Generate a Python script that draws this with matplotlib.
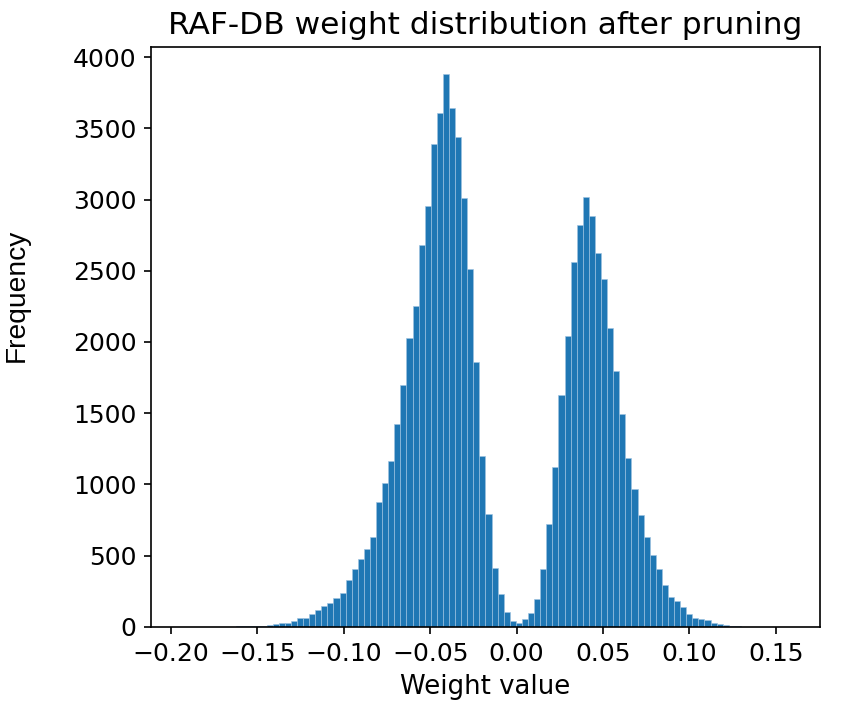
import numpy as np
import matplotlib
matplotlib.use("Agg")
import matplotlib.pyplot as plt

# bin range and counts (100 bins)
w_min, w_max = -0.194, 0.158
counts = [
    1, 0, 0, 1, 1, 1, 2, 2, 3, 4,
    5, 6, 7, 9, 12, 21, 26, 31, 40, 62,
    62, 90, 119, 150, 167, 202, 235, 327, 404, 479,
    549, 632, 880, 1011, 1162, 1425, 1700, 2028, 2251, 2679,
    2953, 3386, 3604, 3878, 3639, 3437, 3010, 2512, 1861, 1198,
    791, 414, 232, 107, 42, 30, 53, 95, 195, 407,
    726, 1126, 1627, 2043, 2558, 2818, 3018, 2884, 2628, 2442,
    2099, 1796, 1493, 1185, 971, 785, 632, 505, 405, 298,
    212, 185, 139, 92, 61, 54, 47, 26, 19, 12,
    7, 4, 3, 2, 1, 1, 0, 0, 1, 1,
]

edges = np.linspace(w_min, w_max, len(counts) + 1)
centers = (edges[:-1] + edges[1:]) / 2

fig = plt.figure(figsize=(845 / 150, 715 / 150), dpi=150)
ax = fig.add_axes([0.1787, 0.1231, 0.7917, 0.8115])

# 直方图
ax.hist(centers, bins=edges, weights=counts, color='#1f77b4',
        edgecolor='#9ec3e0', linewidth=0.3)

ax.set_title('RAF-DB weight distribution after pruning', fontsize=15)
ax.set_xlabel('Weight value', fontsize=12.5)
ax.tick_params(labelsize=12)

# y label in a different font, placed a bit above centre
fig.text(17 / 845, 1 - 295 / 715, 'Frequency', rotation=90,
         ha='center', va='center', fontsize=13.5, family='Liberation Sans')

fig.savefig('out.png', dpi=150)
